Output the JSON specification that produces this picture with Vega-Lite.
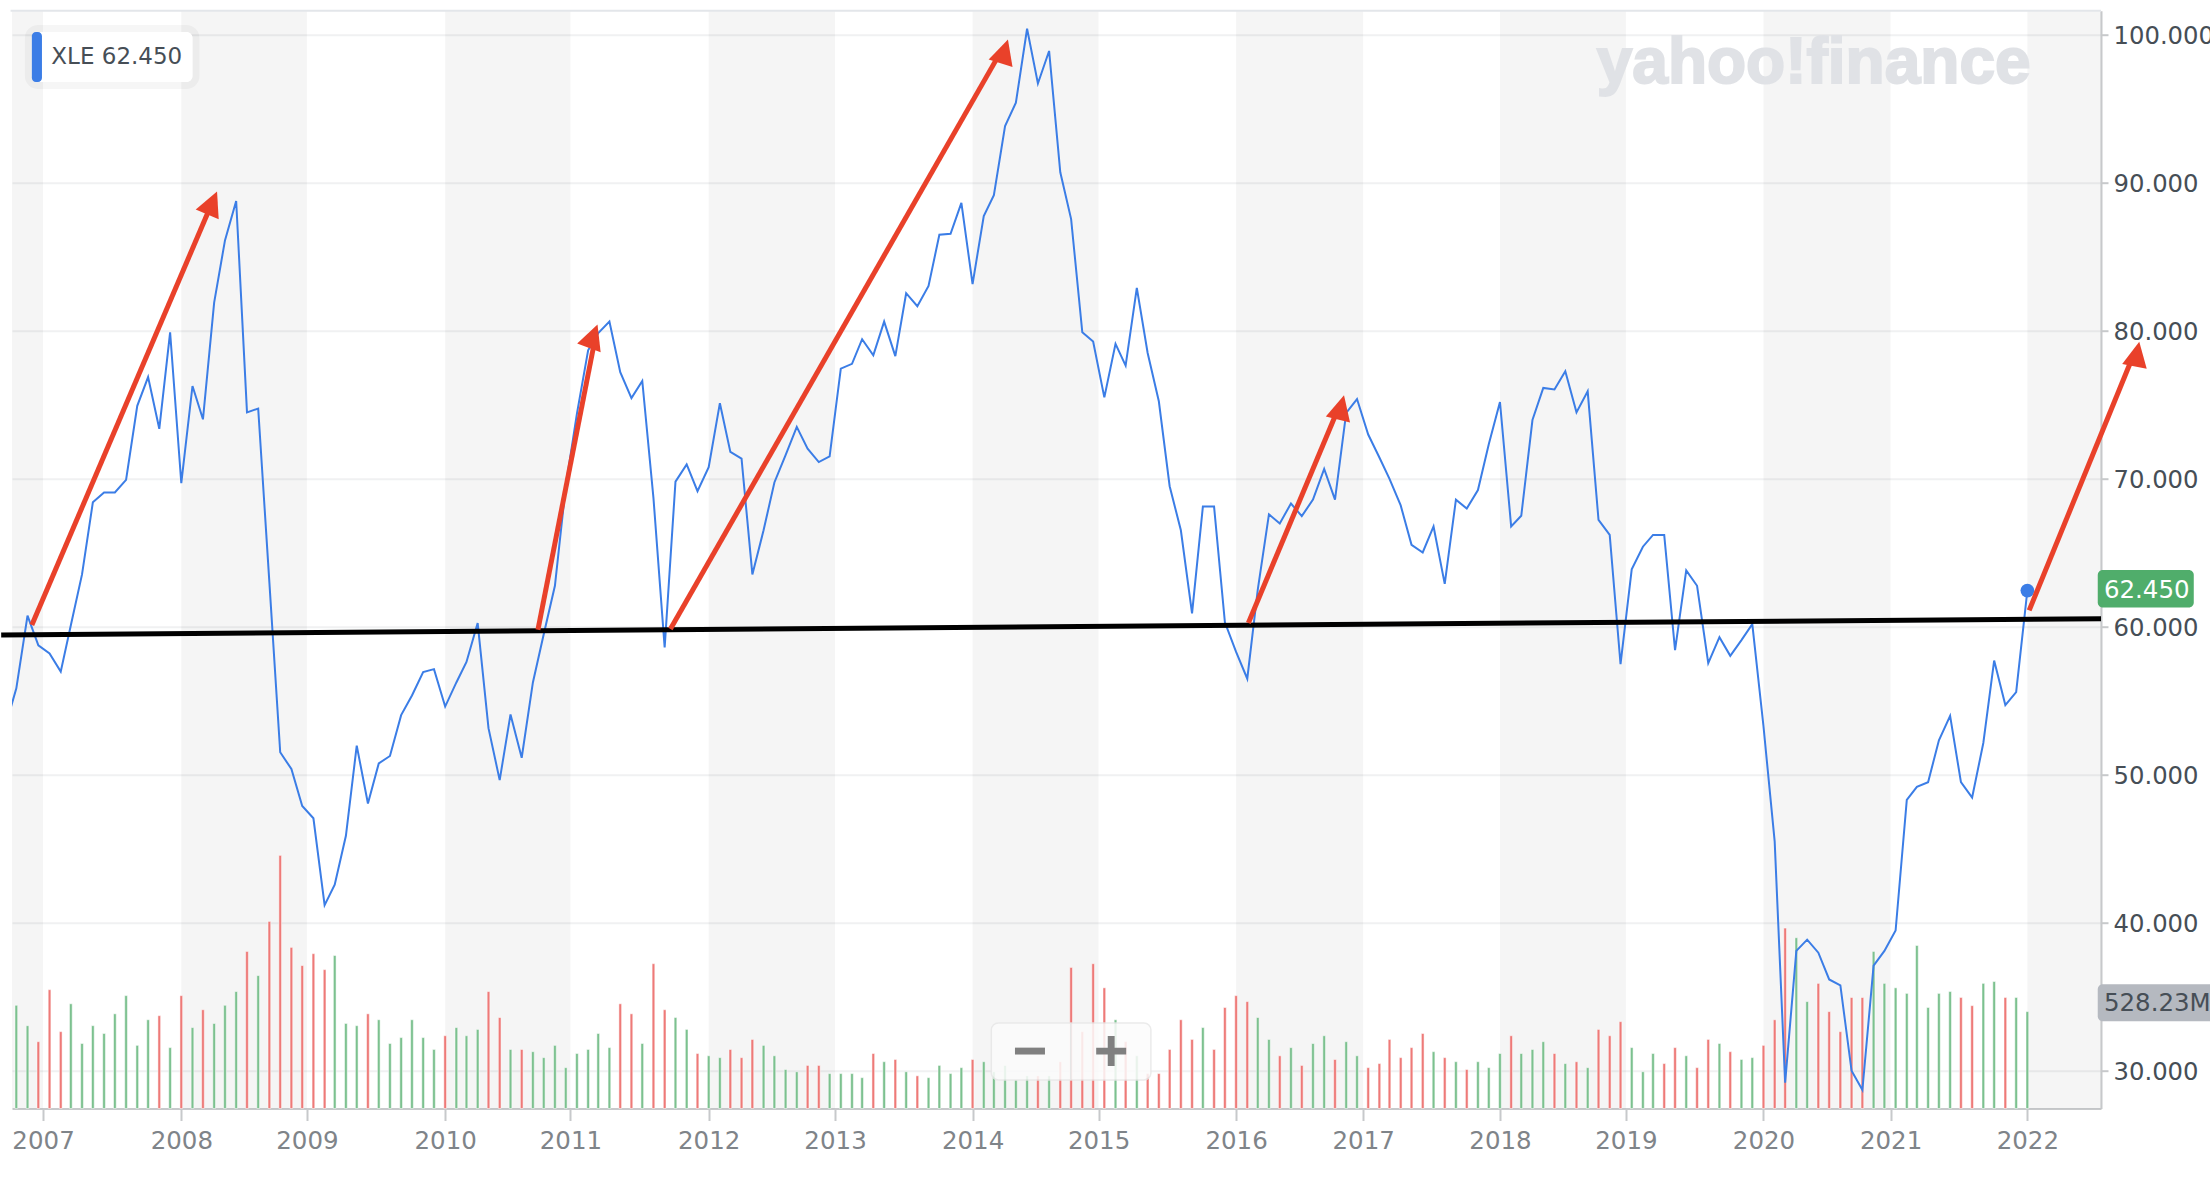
{"$schema":"https://vega.github.io/schema/vega-lite/v6.json","width":2089,"height":1097.8,"autosize":{"type":"none"},"padding":{"left":12,"top":10.7,"right":109,"bottom":73.5},"background":"white","config":{"view":{"stroke":null}},
"datasets":{
"months":[{"d":"2006-09-01","c":53.3},
{"d":"2006-10-01","c":55.84,"v":562.7,"dir":"up"},{"d":"2006-11-01","c":60.75,"v":451.4,"dir":"up"},{"d":"2006-12-01","c":58.75,"v":364.3,"dir":"down"},
{"d":"2007-01-01","c":58.2,"v":647.7,"dir":"down"},{"d":"2007-02-01","c":56.97,"v":419,"dir":"down"},{"d":"2007-03-01","c":60.1,"v":570.8,"dir":"up"},{"d":"2007-04-01","c":63.54,"v":354.2,"dir":"up"},{"d":"2007-05-01","c":68.41,"v":451.4,"dir":"up"},{"d":"2007-06-01","c":69.08,"v":408.8,"dir":"up"},{"d":"2007-07-01","c":69.08,"v":516.1,"dir":"up"},{"d":"2007-08-01","c":69.93,"v":615.3,"dir":"up"},{"d":"2007-09-01","c":74.93,"v":344.1,"dir":"up"},{"d":"2007-10-01","c":76.87,"v":483.7,"dir":"up"},{"d":"2007-11-01","c":73.38,"v":506,"dir":"down"},{"d":"2007-12-01","c":79.9,"v":331.9,"dir":"up"},
{"d":"2008-01-01","c":69.7,"v":615.3,"dir":"down"},{"d":"2008-02-01","c":76.27,"v":441.2,"dir":"up"},{"d":"2008-03-01","c":74.02,"v":538.4,"dir":"down"},{"d":"2008-04-01","c":81.91,"v":463.5,"dir":"up"},{"d":"2008-05-01","c":86.11,"v":562.7,"dir":"up"},{"d":"2008-06-01","c":88.77,"v":637.6,"dir":"up"},{"d":"2008-07-01","c":74.49,"v":856.2,"dir":"down"},{"d":"2008-08-01","c":74.75,"v":724.6,"dir":"up"},{"d":"2008-09-01","c":63.0,"v":1020,"dir":"down"},{"d":"2008-10-01","c":51.52,"v":1380,"dir":"down"},{"d":"2008-11-01","c":50.39,"v":878.4,"dir":"down"},{"d":"2008-12-01","c":47.89,"v":779.2,"dir":"down"},
{"d":"2009-01-01","c":47.06,"v":844,"dir":"down"},{"d":"2009-02-01","c":41.19,"v":757,"dir":"down"},{"d":"2009-03-01","c":42.57,"v":833.9,"dir":"up"},{"d":"2009-04-01","c":45.88,"v":463.5,"dir":"up"},{"d":"2009-05-01","c":51.97,"v":451.4,"dir":"up"},{"d":"2009-06-01","c":48.06,"v":516.1,"dir":"down"},{"d":"2009-07-01","c":50.77,"v":483.7,"dir":"up"},{"d":"2009-08-01","c":51.27,"v":354.2,"dir":"up"},{"d":"2009-09-01","c":54.03,"v":386.6,"dir":"up"},{"d":"2009-10-01","c":55.36,"v":483.7,"dir":"up"},{"d":"2009-11-01","c":56.94,"v":386.6,"dir":"up"},{"d":"2009-12-01","c":57.14,"v":321.8,"dir":"up"},
{"d":"2010-01-01","c":54.61,"v":396.7,"dir":"down"},{"d":"2010-02-01","c":56.24,"v":441.2,"dir":"up"},{"d":"2010-03-01","c":57.62,"v":396.7,"dir":"up"},{"d":"2010-04-01","c":60.25,"v":431.1,"dir":"up"},{"d":"2010-05-01","c":53.15,"v":637.6,"dir":"down"},{"d":"2010-06-01","c":49.64,"v":495.9,"dir":"down"},{"d":"2010-07-01","c":54.08,"v":321.8,"dir":"up"},{"d":"2010-08-01","c":51.15,"v":321.8,"dir":"down"},{"d":"2010-09-01","c":56.24,"v":309.7,"dir":"up"},{"d":"2010-10-01","c":59.5,"v":277.3,"dir":"up"},{"d":"2010-11-01","c":62.77,"v":344.1,"dir":"up"},{"d":"2010-12-01","c":69.5,"v":222.6,"dir":"up"},
{"d":"2011-01-01","c":74.4,"v":299.6,"dir":"up"},{"d":"2011-02-01","c":78.68,"v":321.8,"dir":"up"},{"d":"2011-03-01","c":79.84,"v":408.8,"dir":"up"},{"d":"2011-04-01","c":80.62,"v":331.9,"dir":"up"},{"d":"2011-05-01","c":77.2,"v":570.8,"dir":"down"},{"d":"2011-06-01","c":75.45,"v":516.1,"dir":"down"},{"d":"2011-07-01","c":76.61,"v":354.2,"dir":"up"},{"d":"2011-08-01","c":68.7,"v":789.4,"dir":"down"},{"d":"2011-09-01","c":58.6,"v":538.4,"dir":"down"},{"d":"2011-10-01","c":69.81,"v":495.9,"dir":"up"},{"d":"2011-11-01","c":70.97,"v":431.1,"dir":"up"},{"d":"2011-12-01","c":69.16,"v":299.6,"dir":"down"},
{"d":"2012-01-01","c":70.79,"v":287.4,"dir":"up"},{"d":"2012-02-01","c":75.11,"v":277.3,"dir":"up"},{"d":"2012-03-01","c":71.82,"v":321.8,"dir":"down"},{"d":"2012-04-01","c":71.36,"v":277.3,"dir":"down"},{"d":"2012-05-01","c":63.54,"v":376.5,"dir":"down"},{"d":"2012-06-01","c":66.52,"v":344.1,"dir":"up"},{"d":"2012-07-01","c":69.75,"v":287.4,"dir":"up"},{"d":"2012-08-01","c":71.6,"v":212.5,"dir":"up"},{"d":"2012-09-01","c":73.51,"v":200.4,"dir":"up"},{"d":"2012-10-01","c":72.03,"v":234.8,"dir":"down"},{"d":"2012-11-01","c":71.13,"v":234.8,"dir":"down"},{"d":"2012-12-01","c":71.51,"v":190.3,"dir":"up"},
{"d":"2013-01-01","c":77.44,"v":190.3,"dir":"up"},{"d":"2013-02-01","c":77.77,"v":190.3,"dir":"up"},{"d":"2013-03-01","c":79.43,"v":168,"dir":"up"},{"d":"2013-04-01","c":78.34,"v":299.6,"dir":"down"},{"d":"2013-05-01","c":80.62,"v":255,"dir":"up"},{"d":"2013-06-01","c":78.29,"v":267.2,"dir":"down"},{"d":"2013-07-01","c":82.54,"v":200.4,"dir":"up"},{"d":"2013-08-01","c":81.66,"v":178.1,"dir":"down"},{"d":"2013-09-01","c":83.03,"v":168,"dir":"up"},{"d":"2013-10-01","c":86.49,"v":234.8,"dir":"up"},{"d":"2013-11-01","c":86.55,"v":190.3,"dir":"up"},{"d":"2013-12-01","c":88.64,"v":222.6,"dir":"up"},
{"d":"2014-01-01","c":83.16,"v":267.2,"dir":"down"},{"d":"2014-02-01","c":87.76,"v":255,"dir":"up"},{"d":"2014-03-01","c":89.16,"v":200.4,"dir":"up"},{"d":"2014-04-01","c":93.84,"v":234.8,"dir":"up"},{"d":"2014-05-01","c":95.42,"v":155.8,"dir":"up"},{"d":"2014-06-01","c":100.41,"v":178.1,"dir":"up"},{"d":"2014-07-01","c":96.71,"v":178.1,"dir":"down"},{"d":"2014-08-01","c":98.91,"v":178.1,"dir":"up"},{"d":"2014-09-01","c":90.71,"v":255,"dir":"down"},{"d":"2014-10-01","c":87.55,"v":769.1,"dir":"down"},{"d":"2014-11-01","c":79.9,"v":419,"dir":"down"},{"d":"2014-12-01","c":79.28,"v":789.4,"dir":"down"},
{"d":"2015-01-01","c":75.5,"v":657.8,"dir":"down"},{"d":"2015-02-01","c":79.12,"v":483.7,"dir":"up"},{"d":"2015-03-01","c":77.65,"v":364.3,"dir":"down"},{"d":"2015-04-01","c":82.9,"v":287.4,"dir":"up"},{"d":"2015-05-01","c":78.5,"v":190.3,"dir":"down"},{"d":"2015-06-01","c":75.24,"v":190.3,"dir":"down"},{"d":"2015-07-01","c":69.5,"v":321.8,"dir":"down"},{"d":"2015-08-01","c":66.52,"v":483.7,"dir":"down"},{"d":"2015-09-01","c":60.9,"v":376.5,"dir":"down"},{"d":"2015-10-01","c":68.12,"v":441.2,"dir":"up"},{"d":"2015-11-01","c":68.12,"v":321.8,"dir":"down"},{"d":"2015-12-01","c":60.3,"v":550.5,"dir":"down"},
{"d":"2016-01-01","c":58.3,"v":615.3,"dir":"down"},{"d":"2016-02-01","c":56.49,"v":582.9,"dir":"down"},{"d":"2016-03-01","c":62.5,"v":495.9,"dir":"up"},{"d":"2016-04-01","c":67.6,"v":376.5,"dir":"up"},{"d":"2016-05-01","c":66.98,"v":287.4,"dir":"down"},{"d":"2016-06-01","c":68.33,"v":331.9,"dir":"up"},{"d":"2016-07-01","c":67.48,"v":234.8,"dir":"down"},{"d":"2016-08-01","c":68.59,"v":354.2,"dir":"up"},{"d":"2016-09-01","c":70.66,"v":396.7,"dir":"up"},{"d":"2016-10-01","c":68.59,"v":267.2,"dir":"down"},{"d":"2016-11-01","c":74.46,"v":364.3,"dir":"up"},{"d":"2016-12-01","c":75.39,"v":287.4,"dir":"up"},
{"d":"2017-01-01","c":72.99,"v":222.6,"dir":"down"},{"d":"2017-02-01","c":71.44,"v":244.9,"dir":"down"},{"d":"2017-03-01","c":70.0,"v":376.5,"dir":"down"},{"d":"2017-04-01","c":68.2,"v":277.3,"dir":"down"},{"d":"2017-05-01","c":65.54,"v":331.9,"dir":"down"},{"d":"2017-06-01","c":65.02,"v":408.8,"dir":"down"},{"d":"2017-07-01","c":66.78,"v":309.7,"dir":"up"},{"d":"2017-08-01","c":62.9,"v":277.3,"dir":"down"},{"d":"2017-09-01","c":68.59,"v":255,"dir":"up"},{"d":"2017-10-01","c":67.99,"v":212.5,"dir":"down"},{"d":"2017-11-01","c":69.24,"v":255,"dir":"up"},{"d":"2017-12-01","c":72.34,"v":222.6,"dir":"up"},
{"d":"2018-01-01","c":75.19,"v":299.6,"dir":"up"},{"d":"2018-02-01","c":66.78,"v":396.7,"dir":"down"},{"d":"2018-03-01","c":67.5,"v":299.6,"dir":"up"},{"d":"2018-04-01","c":73.97,"v":321.8,"dir":"up"},{"d":"2018-05-01","c":76.14,"v":364.3,"dir":"up"},{"d":"2018-06-01","c":76.04,"v":299.6,"dir":"down"},{"d":"2018-07-01","c":77.26,"v":244.9,"dir":"up"},{"d":"2018-08-01","c":74.49,"v":255,"dir":"down"},{"d":"2018-09-01","c":75.91,"v":222.6,"dir":"up"},{"d":"2018-10-01","c":67.22,"v":431.1,"dir":"down"},{"d":"2018-11-01","c":66.21,"v":396.7,"dir":"down"},{"d":"2018-12-01","c":57.47,"v":473.6,"dir":"down"},
{"d":"2019-01-01","c":63.88,"v":331.9,"dir":"up"},{"d":"2019-02-01","c":65.41,"v":200.4,"dir":"up"},{"d":"2019-03-01","c":66.21,"v":299.6,"dir":"up"},{"d":"2019-04-01","c":66.21,"v":244.9,"dir":"down"},{"d":"2019-05-01","c":58.42,"v":331.9,"dir":"down"},{"d":"2019-06-01","c":63.81,"v":287.4,"dir":"up"},{"d":"2019-07-01","c":62.77,"v":222.6,"dir":"down"},{"d":"2019-08-01","c":57.54,"v":376.5,"dir":"down"},{"d":"2019-09-01","c":59.3,"v":354.2,"dir":"up"},{"d":"2019-10-01","c":58.04,"v":309.7,"dir":"down"},{"d":"2019-11-01","c":59.1,"v":267.2,"dir":"up"},{"d":"2019-12-01","c":60.18,"v":277.3,"dir":"up"},
{"d":"2020-01-01","c":53.28,"v":344.1,"dir":"down"},{"d":"2020-02-01","c":45.5,"v":483.7,"dir":"down"},{"d":"2020-03-01","c":29.2,"v":983.7,"dir":"down"},{"d":"2020-04-01","c":38.1,"v":931,"dir":"up"},{"d":"2020-05-01","c":38.86,"v":582.9,"dir":"up"},{"d":"2020-06-01","c":37.98,"v":682.1,"dir":"down"},{"d":"2020-07-01","c":36.17,"v":528.3,"dir":"down"},{"d":"2020-08-01","c":35.77,"v":419,"dir":"down"},{"d":"2020-09-01","c":30.0,"v":605.2,"dir":"down"},{"d":"2020-10-01","c":28.7,"v":605.2,"dir":"down"},{"d":"2020-11-01","c":37.1,"v":856.2,"dir":"up"},{"d":"2020-12-01","c":38.1,"v":682.1,"dir":"up"},
{"d":"2021-01-01","c":39.48,"v":657.8,"dir":"up"},{"d":"2021-02-01","c":48.31,"v":627.4,"dir":"up"},{"d":"2021-03-01","c":49.19,"v":888.5,"dir":"up"},{"d":"2021-04-01","c":49.5,"v":550.5,"dir":"up"},{"d":"2021-05-01","c":52.33,"v":627.4,"dir":"up"},{"d":"2021-06-01","c":53.98,"v":637.6,"dir":"up"},{"d":"2021-07-01","c":49.5,"v":605.2,"dir":"down"},{"d":"2021-08-01","c":48.46,"v":560.6,"dir":"down"},{"d":"2021-09-01","c":52.15,"v":682.1,"dir":"up"},{"d":"2021-10-01","c":57.72,"v":692.2,"dir":"up"},{"d":"2021-11-01","c":54.71,"v":605.2,"dir":"down"},{"d":"2021-12-01","c":55.59,"v":605.2,"dir":"up"},
{"d":"2022-01-01","c":62.45,"v":528.23,"dir":"up"}],
"bands":[{"d":"2006-09-19","d2":"2006-12-14"},{"d":"2008-01-01","d2":"2008-12-14"},{"d":"2010-01-01","d2":"2010-12-14"},{"d":"2012-01-01","d2":"2012-12-16"},{"d":"2014-01-01","d2":"2014-12-16"},{"d":"2016-01-01","d2":"2016-12-18"},{"d":"2018-01-01","d2":"2018-12-16"},{"d":"2020-01-01","d2":"2020-12-18"},{"d":"2022-01-01","d2":"2022-07-24"}],
"support":[{"d":"2006-08-20","c":59.45},{"d":"2022-07-24","c":60.55}],
"frame":[{"d":"2006-09-15","c":101.63},{"d":"2022-07-24","c":101.63}],
"arrows":[{"arrow":"a1","d":"2006-11-13","c":60.12},{"arrow":"a1","d":"2008-03-18","c":88.18},{"arrow":"a2","d":"2010-09-15","c":59.8},{"arrow":"a2","d":"2011-02-17","c":79.05},{"arrow":"a3","d":"2011-09-17","c":59.85},{"arrow":"a3","d":"2014-03-12","c":98.51},{"arrow":"a4","d":"2016-02-04","c":60.26},{"arrow":"a4","d":"2016-10-04","c":74.4},{"arrow":"a5","d":"2022-01-06","c":61.11},{"arrow":"a5","d":"2022-10-16","c":78.01}],
"tips":[{"arrow":"a1","d":"2008-04-09","c":89.42},{"arrow":"a2","d":"2011-02-27","c":80.43},{"arrow":"a3","d":"2014-04-09","c":99.69},{"arrow":"a4","d":"2016-10-26","c":75.64},{"arrow":"a5","d":"2022-11-07","c":79.26}],
"last":[{"d":"2022-01-01","c":62.45}],
"legendBox":[{"d":"2006-11-13","d2":"2008-02-01","c":96.81,"c2":100.19}],
"legendStrip":[{"d":"2006-11-13","d2":"2006-12-11","c":96.81,"c2":100.19}],
"legendText":[{"d":"2007-01-06","c":98.5,"t":"XLE 62.450"}],
"logo":[{"d":"2020-05-19","c":96.74,"t":"yahoo!finance"}],
"priceTag":[{"d":"2022-07-15","d2":"2023-04-07","c":61.31,"c2":63.83}],
"priceText":[{"d":"2022-08-01","c":62.45,"t":"62.450"}],
"volTag":[{"d":"2022-07-15","d2":"2023-07-16","v":475.5,"v2":678}],
"volText":[{"d":"2022-08-01","v":570,"t":"528.23M"}],
"zoomPanel":[{"d":"2014-02-22","d2":"2015-05-10","c":29.38,"c2":33.23}],
"zoomDivider":[{"d":"2014-09-30","c":29.38,"c2":33.23}],
"zoomMinus":[{"d":"2014-06-09","c":31.33}],
"zoomPlus":[{"d":"2015-01-20","c":31.33}]
},
"encoding":{"x":{"field":"d","type":"temporal","title":null,"scale":{"type":"utc","domain":["2006-09-19","2022-07-24"],"nice":false,"padding":0},"axis":{"values":["2006-12-14","2008-01-01","2008-12-14","2010-01-01","2010-12-14","2012-01-01","2012-12-16","2014-01-01","2014-12-16","2016-01-01","2016-12-18","2018-01-01","2018-12-16","2020-01-01","2020-12-18","2022-01-01"],"labelExpr":"'' + utcyear(+datum.value + 1728000000)","grid":false,"domainColor":"#c7c9cb","domainWidth":2,"tickColor":"#c7c9cb","tickWidth":2,"tickSize":12,"labelFont":"DejaVu Sans","labelFontSize":24.5,"labelColor":"#7f8489","labelPadding":9,"labelOverlap":false,"labelFlush":false}}},
"layer":[
{"data":{"name":"bands"},"mark":{"type":"rect","color":"#000000","opacity":0.038},"encoding":{"x2":{"field":"d2"}}},
{"encoding":{"y":{"field":"v","type":"quantitative","title":null,"stack":null,"scale":{"domain":[0,5985],"nice":false,"zero":true},"axis":null}},
"layer":[
{"data":{"name":"months"},"transform":[{"filter":"isValid(datum.v)"}],"mark":{"type":"bar","size":2.7,"stroke":"#ffffff","strokeWidth":0.5},"encoding":{"color":{"field":"dir","type":"nominal","scale":{"domain":["up","down"],"range":["#7cc18f","#ee7a78"]},"legend":null}}},
{"data":{"name":"volTag"},"mark":{"type":"rect","color":"#b5b9c0","cornerRadius":5,"clip":false},"encoding":{"x2":{"field":"d2"},"y2":{"field":"v2"}}},
{"data":{"name":"volText"},"mark":{"type":"text","align":"left","baseline":"middle","font":"DejaVu Sans","fontSize":24.5,"color":"#464e56","clip":false},"encoding":{"text":{"field":"t"}}}
]},
{"encoding":{"y":{"field":"c","type":"quantitative","title":null,"scale":{"domain":[27.45,101.63],"nice":false,"zero":false},"axis":{"orient":"right","values":[30,40,50,60,70,80,90,100],"format":".3f","grid":true,"gridColor":"#f0f1f2","gridWidth":2,"domainColor":"#c7c9cb","domainWidth":2,"tickColor":"#c7c9cb","tickWidth":2,"tickSize":7,"labelFont":"DejaVu Sans","labelFontSize":24.3,"labelColor":"#464e56","labelPadding":5,"labelOffset":1.5}}},
"layer":[
{"data":{"name":"frame"},"mark":{"type":"line","color":"#e3e6ea","strokeWidth":2,"clip":false}},
{"data":{"name":"logo"},"mark":{"type":"text","align":"center","baseline":"alphabetic","font":"Liberation Sans","fontWeight":"bold","fontSize":64,"color":"#e0e2e6","stroke":"#e0e2e6","strokeWidth":2},"encoding":{"text":{"field":"t"}}},
{"data":{"name":"months"},"mark":{"type":"line","color":"#3b7de6","strokeWidth":2,"clip":true,"interpolate":"linear"}},
{"data":{"name":"last"},"mark":{"type":"point","shape":"circle","filled":true,"size":188,"color":"#3b7de6","opacity":1}},
{"data":{"name":"support"},"mark":{"type":"line","color":"#000000","strokeWidth":5,"clip":false}},
{"data":{"name":"arrows"},"mark":{"type":"line","color":"#e9412a","strokeWidth":5,"clip":false},"encoding":{"detail":{"field":"arrow"}}},
{"data":{"name":"tips"},"mark":{"type":"point","shape":"M0,0L-1,2L1,2Z","filled":true,"size":625,"color":"#e9412a","opacity":1,"clip":false},"encoding":{"angle":{"field":"arrow","type":"nominal","scale":{"domain":["a1","a2","a3","a4","a5"],"range":[23.15,11.1,29.8,22.9,22.3]},"legend":null}}},
{"data":{"name":"priceTag"},"mark":{"type":"rect","color":"#50ad6b","cornerRadius":5,"clip":false},"encoding":{"x2":{"field":"d2"},"y2":{"field":"c2"}}},
{"data":{"name":"priceText"},"mark":{"type":"text","align":"left","baseline":"middle","font":"DejaVu Sans","fontSize":24.5,"color":"#ffffff","clip":false},"encoding":{"text":{"field":"t"}}},
{"data":{"name":"legendBox"},"mark":{"type":"rect","color":"#ffffff","stroke":"#000000","strokeOpacity":0.035,"strokeWidth":14,"cornerRadius":6},"encoding":{"x2":{"field":"d2"},"y2":{"field":"c2"}}},
{"data":{"name":"legendBox"},"mark":{"type":"rect","color":"#ffffff","cornerRadius":6},"encoding":{"x2":{"field":"d2"},"y2":{"field":"c2"}}},
{"data":{"name":"legendStrip"},"mark":{"type":"rect","color":"#3b7de6","cornerRadius":4},"encoding":{"x2":{"field":"d2"},"y2":{"field":"c2"}}},
{"data":{"name":"legendText"},"mark":{"type":"text","align":"left","baseline":"middle","font":"DejaVu Sans","fontSize":23,"color":"#464e56"},"encoding":{"text":{"field":"t"}}},
{"data":{"name":"zoomPanel"},"mark":{"type":"rect","color":"#fcfcfc","opacity":0.85,"stroke":"#e8e8e8","strokeWidth":1.5,"cornerRadius":7},"encoding":{"x2":{"field":"d2"},"y2":{"field":"c2"}}},
{"data":{"name":"zoomDivider"},"mark":{"type":"rule","color":"#e6e6e6","strokeWidth":1.5},"encoding":{"y2":{"field":"c2"}}},
{"data":{"name":"zoomMinus"},"mark":{"type":"point","shape":"M-1,-0.23H1V0.23H-1Z","filled":true,"size":900,"color":"#808080","opacity":1}},
{"data":{"name":"zoomPlus"},"mark":{"type":"point","shape":"M-1,-0.23H-0.23V-1H0.23V-0.23H1V0.23H0.23V1H-0.23V0.23H-1Z","filled":true,"size":900,"color":"#808080","opacity":1}}
]}
],
"resolve":{"scale":{"y":"independent"},"axis":{"y":"independent"}}
}
